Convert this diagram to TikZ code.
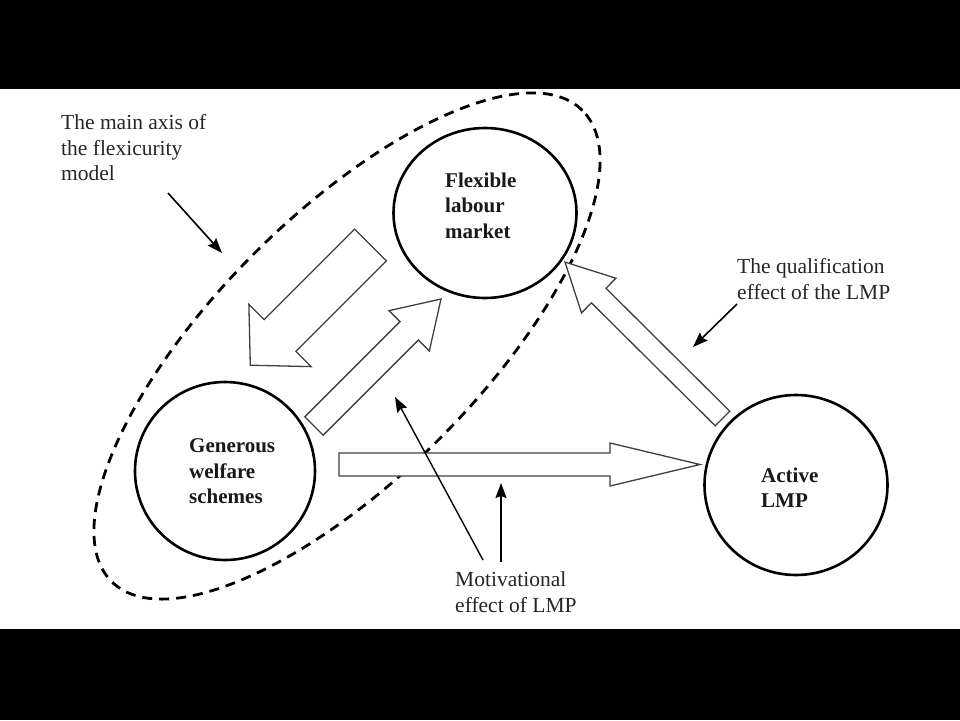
\documentclass[tikz,border=0pt]{standalone}
\usepackage{fontspec}
\setmainfont{Liberation Serif}
\usetikzlibrary{shapes.geometric,arrows.meta}
\tikzset{
  circ/.style={draw=black, line width=2.6pt, ellipse, inner sep=0pt, fill=white},
  axisell/.style={draw=black, line width=2.8pt, ellipse, inner sep=0pt, dash pattern=on 10pt off 7pt},
  blockarrow/.style={draw=black!75, line width=1.3pt, fill=white, line join=miter},
  pointer/.style={draw=black, line width=1.6pt, -{Stealth[length=15pt,width=11pt,inset=2pt]}},
  boldlbl/.style={font=\fontsize{21}{25.5}\selectfont\bfseries, align=left, inner sep=0pt, anchor=north west, text=black!90},
  plainlbl/.style={font=\fontsize{21.5}{25.5}\selectfont, align=left, inner sep=0pt, anchor=north west, text=black!85}
}
\newcommand\blkarrow[7]{%
  \draw[blockarrow, shift={(#1,#2)}, rotate=#3]
    (0,-#5) -- ({#4-#7},-#5) -- ({#4-#7},-#6) -- (#4,0) -- ({#4-#7},#6) -- ({#4-#7},#5) -- (0,#5) -- cycle;}
\begin{document}
\begin{tikzpicture}[x=1pt,y=1pt]
  \useasboundingbox (0,0) rectangle (960,-720);
  \fill[black] (0,0) rectangle (960,-720);
  \fill[white] (0,-89) rectangle (960,-629);

  % dashed main axis
  \node[axisell, rotate=45, minimum width=666pt, minimum height=262pt] (axis) at (347,-346) {};

  % circles
  \node[circ, minimum width=183pt, minimum height=170pt] (flex) at (485,-213) {};
  \node[circ, minimum width=180pt, minimum height=178pt] (gen) at (225,-471) {};
  \node[circ, minimum width=183pt, minimum height=180pt] (act) at (796,-485) {};

  \node[boldlbl] (flextext) at (445,-172.5) {Flexible\\labour\\market};
  \node[boldlbl] (gentext) at (189,-438.5) {Generous\\welfare\\schemes};
  \node[boldlbl] (acttext) at (761,-467.5) {Active\\LMP};

  % block arrows
  \blkarrow{370.5}{-245}{225}{170}{22.5}{44}{42}
  \blkarrow{314}{-426}{45}{179.6}{13}{28.5}{45}
  \blkarrow{339}{-464.5}{0}{361}{11.5}{21.5}{90}
  \blkarrow{722.5}{-418.5}{135.2}{222}{10.3}{24.4}{47.5}

  % labels
  \node[plainlbl] (axislbl) at (61,-114.5) {The main axis of\\the flexicurity\\model};
  \node[plainlbl] (quallbl) at (737,-258.5) {The qualification\\effect of the LMP};
  \node[plainlbl] (motlbl) at (455,-571.5) {Motivational\\effect of LMP};

  % pointers
  \coordinate (p1s) at (168,-193);
  \coordinate (p1e) at (222,-253);
  \coordinate (p2s) at (737,-304);
  \coordinate (p2e) at (693,-347);
  \coordinate (p3s) at (483,-560);
  \coordinate (p3e) at (395,-397);
  \coordinate (p4s) at (501,-562);
  \coordinate (p4e) at (501,-483);
  \draw[pointer] (p1s) -- (p1e);
  \draw[pointer] (p2s) -- (p2e);
  \draw[pointer, line width=1.4pt] (p3s) -- (p3e);
  \draw[pointer, line width=1.4pt] (p4s) -- (p4e);
\end{tikzpicture}
\end{document}
